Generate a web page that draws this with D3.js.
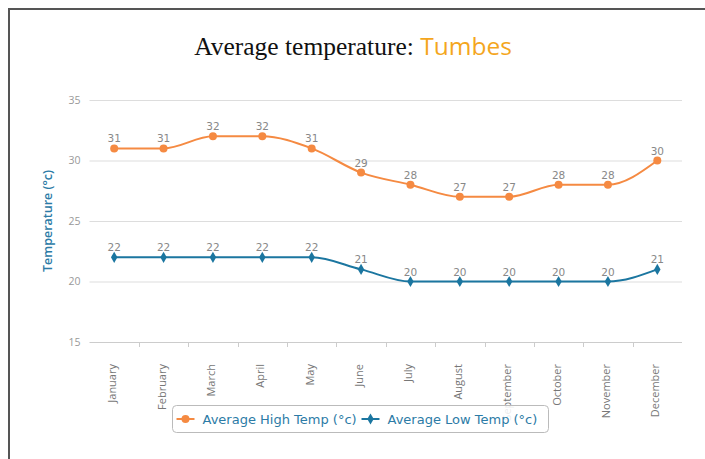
<!DOCTYPE html>
<html>
<head>
<meta charset="utf-8">
<script src="https://d3js.org/d3.v7.min.js"></script>
<style>
  body { margin: 0; background: #fff; }
  svg { display: block; }
</style>
</head>
<body>
<svg width="705" height="459"></svg>
<script>
var months = ["January", "February", "March", "April", "May", "June", "July",
              "August", "September", "October", "November", "December"];
var highTemps = [31, 31, 32, 32, 31, 29, 28, 27, 27, 28, 28, 30];
var lowTemps = [22, 22, 22, 22, 22, 21, 20, 20, 20, 20, 20, 21];
var yTicks = [15, 20, 25, 30, 35];

var svg = d3.select("svg"),
    width = +svg.attr("width"),
    height = +svg.attr("height");

var highColor = "#f58a42",
    lowColor = "#1b76a0",
    labelBlue = "#2c7ba6";

// frame
svg.append("path")
    .attr("d", "M9," + height + "V9H" + width)
    .attr("fill", "none")
    .attr("stroke", "#555")
    .attr("stroke-width", 2);

// title
var title = svg.append("text")
    .attr("x", 353)
    .attr("y", 55)
    .attr("text-anchor", "middle")
    .attr("font-size", 25.5);
title.append("tspan")
    .attr("font-family", "Liberation Serif, serif")
    .attr("fill", "#111")
    .text("Average temperature: ");
title.append("tspan")
    .attr("font-family", "Open Sans, sans-serif")
    .attr("font-size", 24.5)
    .attr("fill", "#f4a61d")
    .text("Tumbes");

var x = d3.scaleBand().domain(months).range([89.5, 682]);
var y = d3.scaleLinear().domain([15, 35]).range([342, 100]);

// grid
svg.append("g").selectAll("line")
    .data(yTicks.slice(1))
    .enter().append("line")
    .attr("x1", 89.5).attr("x2", 682)
    .attr("y1", function(d) { return y(d) + 0.5; })
    .attr("y2", function(d) { return y(d) + 0.5; })
    .attr("stroke", "#ddd");

// y axis
var yAxis = svg.append("g")
    .attr("transform", "translate(89.5,0)")
    .call(d3.axisLeft(y).tickValues(yTicks).tickSize(0).tickPadding(9));
yAxis.select(".domain").remove();
yAxis.selectAll("text")
    .attr("fill", "#999")
    .attr("font-family", "Open Sans, sans-serif")
    .attr("font-size", 10.5);

svg.append("text")
    .attr("transform", "translate(52,221) rotate(-90)")
    .attr("text-anchor", "middle")
    .attr("font-family", "Open Sans, sans-serif")
    .attr("font-size", 12.5)
    .attr("font-weight", 600)
    .attr("fill", labelBlue)
    .text("Temperature (°c)");

// x axis
svg.append("line")
    .attr("x1", 89.5).attr("x2", 682)
    .attr("y1", 342.5).attr("y2", 342.5)
    .attr("stroke", "#ccc");
svg.append("g").selectAll("line")
    .data(months.slice(1))
    .enter().append("line")
    .attr("x1", function(d) { return Math.round(x(d)) + 0.5; })
    .attr("x2", function(d) { return Math.round(x(d)) + 0.5; })
    .attr("y1", 342).attr("y2", 347)
    .attr("stroke", "#ccc");
svg.append("g").selectAll("text")
    .data(months)
    .enter().append("text")
    .attr("transform", function(d) {
      return "translate(" + (x(d) + x.bandwidth() / 2 + 2) + ",364) rotate(-90)";
    })
    .attr("text-anchor", "end")
    .attr("font-family", "Open Sans, sans-serif")
    .attr("font-size", 11)
    .attr("fill", "#777")
    .text(function(d) { return d; });

function cx(i) { return x(months[i]) + x.bandwidth() / 2; }

var line = d3.line()
    .x(function(d, i) { return cx(i); })
    .y(function(d) { return y(d); })
    .curve(d3.curveMonotoneX);

function drawSeries(values, color, shape) {
  var g = svg.append("g");
  g.append("path")
    .attr("d", line(values))
    .attr("fill", "none")
    .attr("stroke", color)
    .attr("stroke-width", 2);
  g.selectAll(".pt")
    .data(values)
    .enter().append("path")
    .attr("class", "pt")
    .attr("transform", function(d, i) { return "translate(" + cx(i) + "," + y(d) + ")"; })
    .attr("d", d3.symbol().type(shape).size(shape === d3.symbolCircle ? 50 : 36))
    .attr("fill", color);
  g.selectAll(".lbl")
    .data(values)
    .enter().append("text")
    .attr("class", "lbl")
    .attr("x", function(d, i) { return cx(i); })
    .attr("y", function(d) { return y(d) - 6; })
    .attr("text-anchor", "middle")
    .attr("font-family", "DejaVu Sans, sans-serif")
    .attr("font-size", 10.5)
    .attr("fill", "#888")
    .text(function(d) { return d; });
}

drawSeries(highTemps, highColor, d3.symbolCircle);
drawSeries(lowTemps, lowColor, d3.symbolDiamond);

// legend
var legend = svg.append("g").attr("transform", "translate(172.5,405.5)");
legend.append("rect")
    .attr("width", 376).attr("height", 27).attr("rx", 4)
    .attr("fill", "#fff").attr("fill-opacity", 0.85)
    .attr("stroke", "#bbb");
var items = [
  {name: "Average High Temp (°c)", color: highColor, shape: d3.symbolCircle, x: 4},
  {name: "Average Low Temp (°c)", color: lowColor, shape: d3.symbolDiamond, x: 189}
];
var item = legend.selectAll(".item")
    .data(items)
    .enter().append("g")
    .attr("transform", function(d) { return "translate(" + d.x + ",13.5)"; });
item.append("line")
    .attr("x1", 0).attr("x2", 18)
    .attr("stroke", function(d) { return d.color; })
    .attr("stroke-width", 2);
item.append("path")
    .attr("transform", "translate(9,0)")
    .attr("d", function(d) { return d3.symbol().type(d.shape).size(d.shape === d3.symbolCircle ? 50 : 36)(); })
    .attr("fill", function(d) { return d.color; });
item.append("text")
    .attr("x", 26)
    .attr("y", 4.5)
    .attr("font-family", "DejaVu Sans, sans-serif")
    .attr("font-size", 13)
    .attr("fill", labelBlue)
    .text(function(d) { return d.name; });
</script>
</body>
</html>
